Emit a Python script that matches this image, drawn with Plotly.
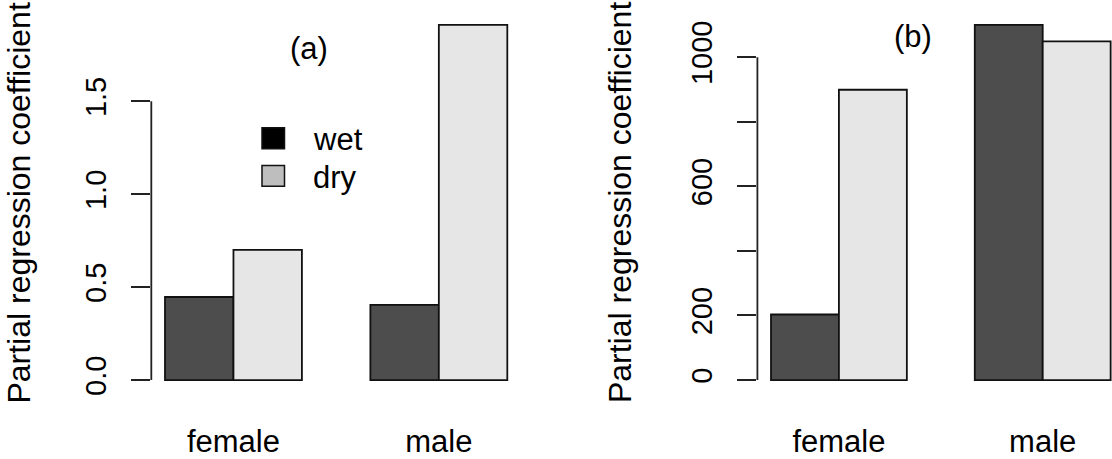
import plotly.graph_objects as go

# ---- data ----
categories = ["female", "male"]
series_names = ["wet", "dry"]
wet_a = [0.447, 0.405]
dry_a = [0.700, 1.911]
wet_b = [203, 1100]
dry_b = [899, 1049]
yticks_a = [0.0, 0.5, 1.0, 1.5]
yticklabels_a = ["0.0", "0.5", "1.0", "1.5"]
yticks_b = [0, 200, 400, 600, 800, 1000]
yticklabels_b = ["0", "200", "", "600", "", "1000"]
panel_labels = ["(a)", "(b)"]
ytitle = "Partial regression coefficient"

# ---- styling ----
W, H = 1112, 459
FONT = "Liberation Sans, Arial, sans-serif"
FS = 31
bar_colors = ["#4d4d4d", "#e6e6e6"]
legend_colors = ["#000000", "#bebebe"]


def px_x(p):
    return p / W


def px_y(p):
    return 1 - p / H


def r_range(vals):
    hi = max(vals)
    ext = 0.04 * hi
    return [-ext, hi + ext]


ydom = [px_y(396.0), px_y(10.7)]

fig = go.Figure()
for name, col, vals in zip(series_names, bar_colors, [wet_a, dry_a]):
    fig.add_trace(go.Bar(x=categories, y=vals, name=name, marker=dict(color=col, line=dict(color="#111", width=1.8)),
                         showlegend=False, xaxis="x", yaxis="y"))
for name, col, vals in zip(series_names, bar_colors, [wet_b, dry_b]):
    fig.add_trace(go.Bar(x=categories, y=vals, name=name, marker=dict(color=col, line=dict(color="#111", width=1.8)),
                         showlegend=False, xaxis="x2", yaxis="y2"))

xcommon = dict(type="category", showgrid=False, zeroline=False, showline=False, ticks="",
               tickfont=dict(family=FONT, size=FS, color="#000"), ticklabelstandoff=26, fixedrange=True)
ycommon = dict(showgrid=False, zeroline=False, showline=False, ticks="outside", ticklen=19, tickwidth=1.8,
               tickcolor="#222", tickangle=-90, tickfont=dict(family=FONT, size=FS - 2, color="#000"),
               ticklabelstandoff=14)

fig.update_layout(
    width=W, height=H, autosize=False,
    margin=dict(l=0, r=0, t=0, b=0),
    paper_bgcolor="white", plot_bgcolor="white",
    barmode="group", bargap=1 / 3, bargroupgap=0,
    showlegend=False,
    xaxis=dict(domain=[px_x(151.3), px_x(521.0)], range=[-0.4, 1.4], anchor="y", **xcommon),
    yaxis=dict(domain=ydom, range=r_range(wet_a + dry_a), anchor="x",
               tickvals=yticks_a, ticktext=yticklabels_a, **ycommon),
    xaxis2=dict(domain=[px_x(757.4), 1.0], range=[-0.4, 1.34], anchor="y2", **xcommon),
    yaxis2=dict(domain=ydom, range=r_range(wet_b + dry_b), anchor="x2",
                tickvals=yticks_b, ticktext=yticklabels_b, **ycommon),
)

# axis lines spanning first to last tick (R style)
for xr, yr, ticks in [("x domain", "y", yticks_a), ("x2 domain", "y2", yticks_b)]:
    fig.add_shape(type="line", xref=xr, yref=yr, x0=0, x1=0, y0=ticks[0], y1=ticks[-1],
                  line=dict(color="#222", width=1.8))

# y titles
for xpix in [19.0, 619.5]:
    fig.add_annotation(xref="paper", yref="paper", x=px_x(xpix), y=px_y(203.5), text=ytitle,
                       textangle=-90, showarrow=False, xanchor="center", yanchor="middle",
                       font=dict(family=FONT, size=FS + 1, color="#000"))

# panel labels
for lab, (xp, yp) in zip(panel_labels, [(308.5, 49.0), (913.0, 37.0)]):
    fig.add_annotation(xref="paper", yref="paper", x=px_x(xp), y=px_y(yp), text=lab, showarrow=False,
                       xanchor="center", yanchor="middle", font=dict(family=FONT, size=FS, color="#000"))

# legend (panel a)
for i, (name, col) in enumerate(zip(series_names, legend_colors)):
    y0 = 128.3 + i * 37.8
    fig.add_shape(type="rect", xref="paper", yref="paper", x0=px_x(262), x1=px_x(284.5),
                  y0=px_y(y0), y1=px_y(y0 + 21), fillcolor=col, line=dict(color="#111", width=1.5))
    fig.add_annotation(xref="paper", yref="paper", x=px_x(311), y=px_y(y0 + 12), text=name, showarrow=False,
                       xanchor="left", yanchor="middle", font=dict(family=FONT, size=FS, color="#000"))

fig.write_html("out.html")
